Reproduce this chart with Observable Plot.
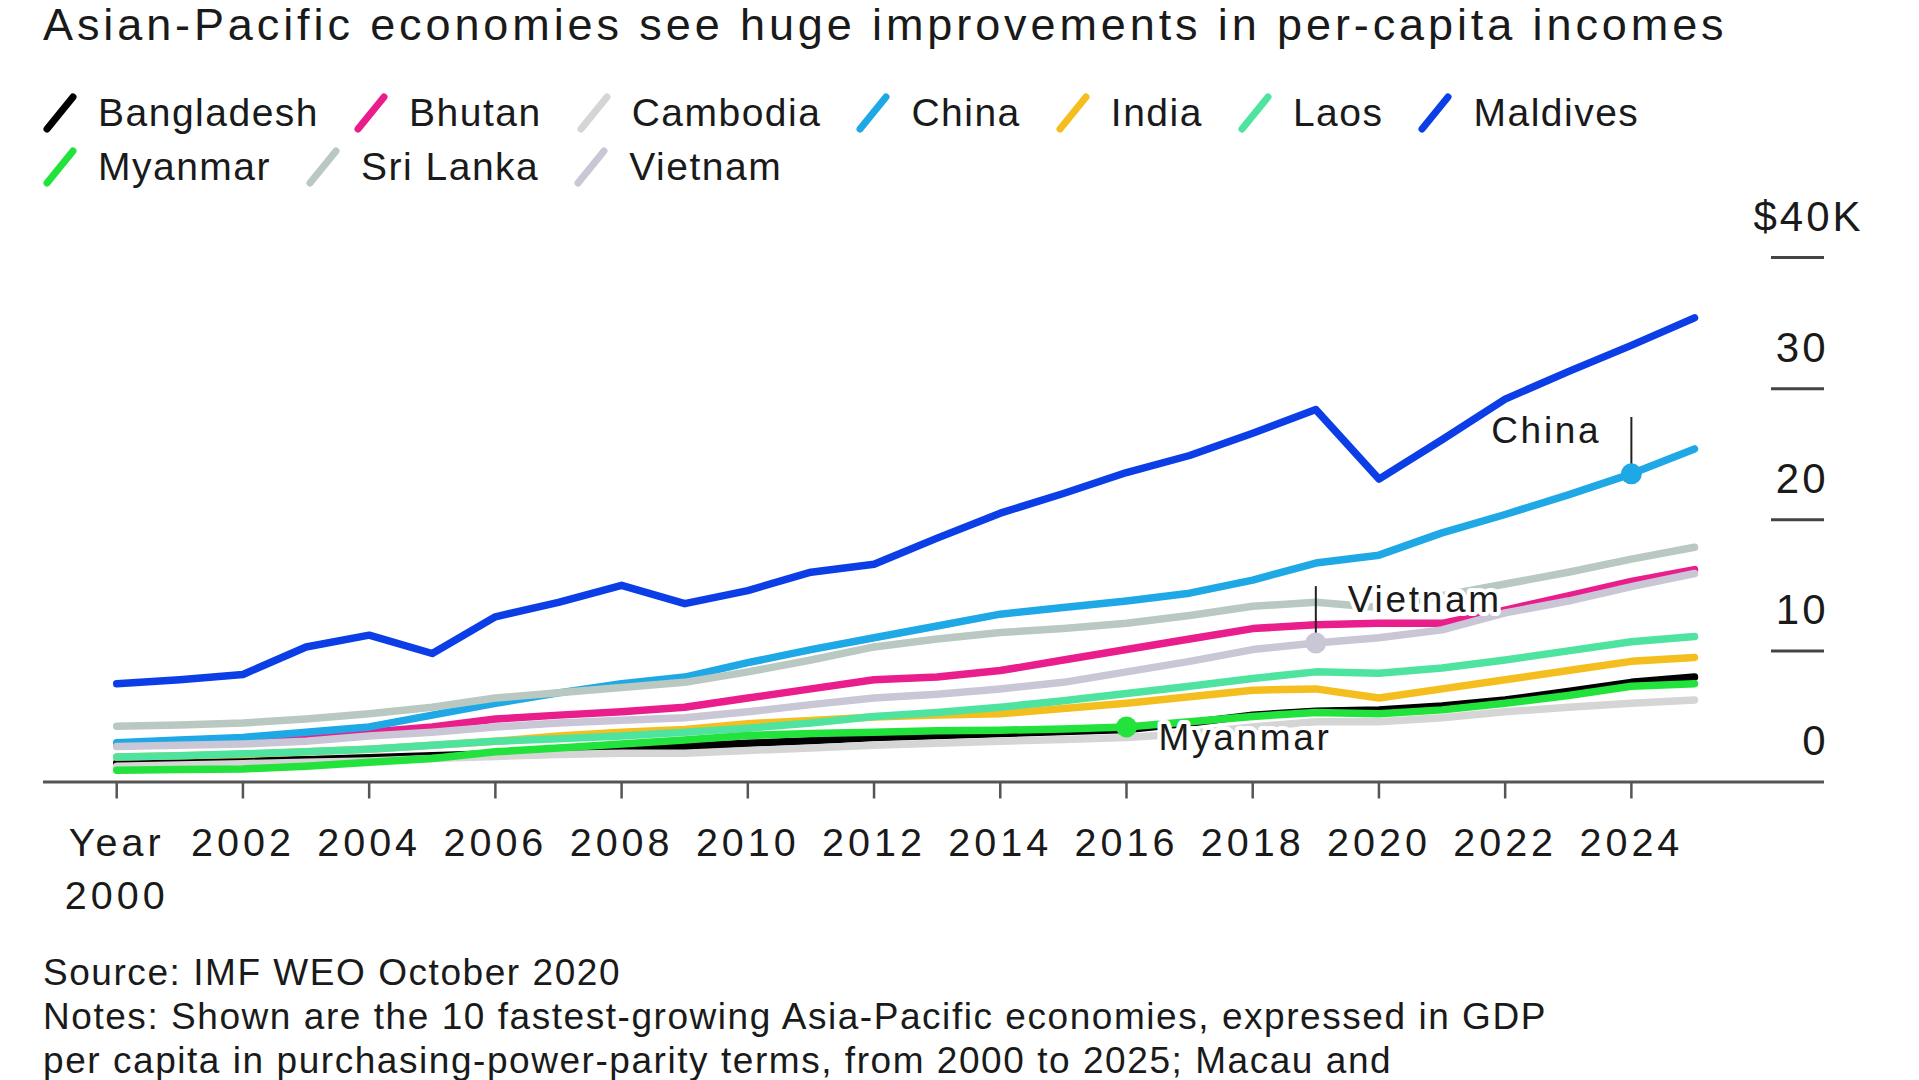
<!DOCTYPE html>
<html>
<head>
<meta charset="utf-8">
<script src="https://cdn.jsdelivr.net/npm/d3@7"></script>
<script src="https://cdn.jsdelivr.net/npm/@observablehq/plot@0.6"></script>
<style>
html, body { margin: 0; padding: 0; background: #fff; }
body { width: 1919px; height: 1080px; overflow: hidden; position: relative;
  font-family: "Liberation Sans", Arial, Helvetica, sans-serif; color: #1a1a1a; }
#title { position: absolute; left: 43px; top: 2px; font-size: 45px; line-height: 45px;
  letter-spacing: 3.9px; white-space: nowrap; }
#legend { position: absolute; left: 43px; top: 85.5px; width: 1700px; display: flex;
  flex-wrap: wrap; column-gap: 35px; }
.item { display: flex; align-items: center; height: 54px; }
.item svg { margin-right: 21px; }
.item span { font-size: 39px; line-height: 54px; letter-spacing: 1.5px; white-space: nowrap; }
#chart { position: absolute; left: 0; top: 190px; }
#notes { position: absolute; left: 43px; top: 951px; font-size: 37px; line-height: 44px;
  letter-spacing: 1.55px; white-space: nowrap; }
svg text { letter-spacing: 3px; }
svg [aria-description="xlabels"] text { letter-spacing: 4px; }
svg [aria-description="ylabels"] text { letter-spacing: 3px; }
svg [aria-description="annot"] text { letter-spacing: 2.7px; }
</style>
</head>
<body>
<div id="title">Asian-Pacific economies see huge improvements in per-capita incomes</div>
<div id="legend"></div>
<div id="chart"></div>
<div id="notes">Source: IMF WEO October 2020<br>Notes: Shown are the 10 fastest-growing Asia-Pacific economies, expressed in GDP<br>per capita in purchasing-power-parity terms, from 2000 to 2025; Macau and</div>
<script>
// ---- Data (GDP per capita, PPP, thousands of US$) ----
const years = [2000, 2001, 2002, 2003, 2004, 2005, 2006, 2007, 2008, 2009, 2010, 2011, 2012,
  2013, 2014, 2015, 2016, 2017, 2018, 2019, 2020, 2021, 2022, 2023, 2024, 2025];

const bangladesh = [1.45, 1.5, 1.6, 1.7, 1.85, 2.0, 2.15, 2.35, 2.55, 2.7, 2.95, 3.15, 3.4,
  3.55, 3.7, 3.85, 4.0, 4.5, 5.1, 5.4, 5.5, 5.8, 6.25, 6.9, 7.6, 8.0];
const bhutan = [2.8, 3.0, 3.3, 3.5, 3.8, 4.2, 4.8, 5.1, 5.35, 5.7, 6.4, 7.1, 7.8,
  8.0, 8.5, 9.3, 10.1, 10.9, 11.7, 12.0, 12.1, 12.1, 13.1, 14.2, 15.3, 16.2];
const cambodia = [1.2, 1.3, 1.4, 1.5, 1.6, 1.8, 1.95, 2.1, 2.2, 2.2, 2.4, 2.6, 2.8,
  2.95, 3.1, 3.25, 3.4, 3.7, 4.2, 4.6, 4.6, 4.9, 5.35, 5.7, 6.0, 6.25];
const china = [3.0, 3.2, 3.4, 3.8, 4.2, 5.1, 6.0, 6.8, 7.5, 8.0, 9.1, 10.1, 11.0,
  11.9, 12.8, 13.3, 13.8, 14.4, 15.4, 16.7, 17.3, 19.0, 20.4, 21.9, 23.5, 25.4];
const india = [1.9, 2.0, 2.1, 2.3, 2.5, 2.8, 3.1, 3.5, 3.8, 4.0, 4.45, 4.7, 4.95,
  5.1, 5.2, 5.6, 6.0, 6.5, 7.0, 7.1, 6.4, 7.1, 7.8, 8.5, 9.2, 9.5];
const laos = [1.9, 2.0, 2.15, 2.3, 2.5, 2.8, 3.1, 3.3, 3.5, 3.8, 4.1, 4.5, 5.0,
  5.3, 5.7, 6.2, 6.75, 7.3, 7.9, 8.4, 8.3, 8.7, 9.3, 10.0, 10.7, 11.1];
const maldives = [7.5, 7.8, 8.2, 10.3, 11.2, 9.8, 12.6, 13.7, 15.0, 13.6, 14.6, 16.0, 16.6,
  18.6, 20.5, 22.0, 23.6, 24.9, 26.6, 28.4, 23.1, 26.1, 29.2, 31.3, 33.3, 35.4];
const myanmar = [0.9, 0.95, 1.0, 1.2, 1.5, 1.8, 2.3, 2.6, 2.9, 3.2, 3.55, 3.7, 3.8,
  3.9, 3.95, 4.05, 4.2, 4.6, 5.0, 5.3, 5.2, 5.5, 6.0, 6.6, 7.3, 7.5];
const sriLanka = [4.25, 4.35, 4.5, 4.8, 5.2, 5.7, 6.4, 6.8, 7.2, 7.6, 8.4, 9.3, 10.3,
  10.9, 11.4, 11.7, 12.1, 12.7, 13.4, 13.7, 13.3, 14.2, 15.1, 16.0, 17.0, 17.9];
const vietnam = [2.7, 2.8, 2.9, 3.1, 3.5, 3.8, 4.2, 4.5, 4.7, 4.9, 5.35, 5.9, 6.4,
  6.7, 7.1, 7.6, 8.4, 9.2, 10.1, 10.6, 11.0, 11.6, 12.9, 13.8, 14.9, 15.9];

const countries = ["Bangladesh", "Bhutan", "Cambodia", "China", "India", "Laos",
  "Maldives", "Myanmar", "Sri Lanka", "Vietnam"];
const seriesValues = [bangladesh, bhutan, cambodia, china, india, laos,
  maldives, myanmar, sriLanka, vietnam];
const colors = ["#000000", "#ea1d8c", "#d5d5d5", "#1fa8e6", "#f4bf1e", "#4fe3a0",
  "#0b3ee6", "#22e23c", "#b9c9c1", "#c9c6d5"];

const xTicks = [2000, 2002, 2004, 2006, 2008, 2010, 2012, 2014, 2016, 2018, 2020, 2022, 2024];
const yTicks = [0, 10, 20, 30, 40];

// Annotations: highlighted point, and (optional) value where the label sits
const annotations = [
  {country: "China", year: 2024, labelValue: 27.8},
  {country: "Vietnam", year: 2019, labelValue: 14.9},
  {country: "Myanmar", year: 2016, labelValue: null}
];

// ---- Build table ----
const rows = countries.flatMap((c, i) =>
  years.map((yr, j) => ({country: c, year: yr, value: seriesValues[i][j]})));
const annRows = annotations.map(a => ({
  ...a,
  value: seriesValues[countries.indexOf(a.country)][years.indexOf(a.year)]
}));

// ---- Legend ----
const legend = d3.select("#legend");
countries.forEach((c, i) => {
  const item = legend.append("div").attr("class", "item");
  const s = item.append("svg").attr("width", 34).attr("height", 40);
  s.append("line").attr("x1", 4).attr("y1", 36).attr("x2", 30).attr("y2", 4)
    .attr("stroke", colors[i]).attr("stroke-width", 7).attr("stroke-linecap", "round");
  item.append("span").text(c);
});

// ---- Chart ----
const W = 1919, H = 730, mT = 67, mB = 138.5, mL = 43, mR = 95;
const yMax = 40;
const pxPerUnit = (H - mT - mB) / yMax;
const tickLen = 17 / pxPerUnit;     // x tick length, in data units
const stubLen = 53;                 // y tick stub length (px)

const fontFamily = '"Liberation Sans", Arial, Helvetica, sans-serif';

const chart = Plot.plot({
  width: W, height: H,
  marginTop: mT, marginBottom: mB, marginLeft: mL, marginRight: mR,
  x: {domain: [1998.84, 2027.06], axis: null},
  y: {domain: [0, yMax], axis: null},
  color: {domain: countries, range: colors},
  style: {fontFamily, fontSize: "40px", color: "#1a1a1a", background: "transparent", overflow: "visible"},
  marks: [
    // y tick stubs at the right
    Plot.ruleY(yTicks.filter(d => d > 0), {y: d => d, stroke: "#444", strokeWidth: 3,
      insetLeft: (W - mL - mR) - stubLen}),
    // x axis line
    Plot.ruleY([0], {stroke: "#555", strokeWidth: 3}),
    // x ticks
    Plot.ruleX(xTicks, {x: d => d, y1: 0, y2: -tickLen, stroke: "#555", strokeWidth: 2.5}),
    // series lines
    Plot.line(rows, {x: "year", y: "value", z: "country", stroke: "country",
      strokeWidth: 7.5, strokeLinejoin: "round", strokeLinecap: "round"}),
    // y labels
    Plot.text(yTicks.filter(d => d < yMax), {y: d => d, text: d => String(d),
      frameAnchor: "right", textAnchor: "end", dx: 4, dy: -40, fontSize: 42,
      fill: "#1a1a1a", ariaDescription: "ylabels"}),
    Plot.text(yTicks.filter(d => d === yMax), {y: d => d, text: d => `$${d}K`,
      frameAnchor: "right", textAnchor: "start", dx: -71, dy: -40, fontSize: 42,
      fill: "#1a1a1a", ariaDescription: "ylabels"}),
    // x labels
    Plot.text(xTicks, {x: d => d, text: d => d === xTicks[0] ? `Year\n${d}` : String(d),
      frameAnchor: "bottom", lineAnchor: "top", dy: 36.5, lineHeight: 1.34,
      fontSize: 39.5, fill: "#1a1a1a", ariaDescription: "xlabels"}),
    // annotation leader lines
    Plot.ruleX(annRows.filter(d => d.labelValue != null), {x: "year", y1: "value",
      y2: "labelValue", stroke: "#222", strokeWidth: 2}),
    // annotation dots
    Plot.dot(annRows, {x: "year", y: "value", fill: "country", r: 10.5}),
    // annotation labels
    Plot.text(annRows.filter(d => d.country === "China"), {x: "year", y: "labelValue",
      text: "country", textAnchor: "end", dx: -30, dy: 14, fontSize: 37,
      fill: "#1a1a1a", stroke: "white", strokeWidth: 8, ariaDescription: "annot"}),
    Plot.text(annRows.filter(d => d.country === "Vietnam"), {x: "year", y: "labelValue",
      text: "country", textAnchor: "start", dx: 32, dy: 14, fontSize: 37,
      fill: "#1a1a1a", stroke: "white", strokeWidth: 8, ariaDescription: "annot"}),
    Plot.text(annRows.filter(d => d.country === "Myanmar"), {x: "year", y: "value",
      text: "country", textAnchor: "start", dx: 32, dy: 11, fontSize: 37,
      fill: "#1a1a1a", stroke: "white", strokeWidth: 8, ariaDescription: "annot"})
  ]
});
document.getElementById("chart").appendChild(chart);
</script>
</body>
</html>
